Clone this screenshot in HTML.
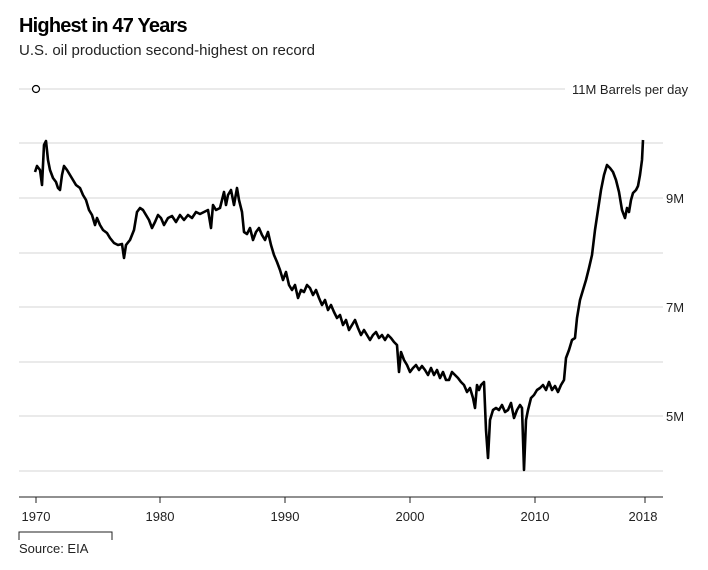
<!DOCTYPE html>
<html><head><meta charset="utf-8"><style>
body{margin:0;background:#fff;width:708px;height:565px;overflow:hidden;font-family:"Liberation Sans",Arial,sans-serif}
</style></head><body>
<svg width="708" height="565" xmlns="http://www.w3.org/2000/svg" font-family="Liberation Sans, Arial, sans-serif">
<text x="19" y="32" font-size="20" font-weight="bold" letter-spacing="-0.8" fill="#000">Highest in 47 Years</text>
<text x="19" y="55" font-size="15" fill="#222">U.S. oil production second-highest on record</text>
<g stroke="#e3e3e3" stroke-width="1.5">
<line x1="19" y1="89" x2="565" y2="89"/>
<line x1="19" y1="143" x2="663" y2="143"/>
<line x1="19" y1="198" x2="663" y2="198"/>
<line x1="19" y1="253" x2="663" y2="253"/>
<line x1="19" y1="307" x2="663" y2="307"/>
<line x1="19" y1="362" x2="663" y2="362"/>
<line x1="19" y1="416" x2="663" y2="416"/>
<line x1="19" y1="471" x2="663" y2="471"/>
</g>
<circle cx="36" cy="89" r="3.5" fill="#fff" stroke="#000" stroke-width="1.2"/>
<g font-size="13" fill="#222">
<text x="572" y="94">11M Barrels per day</text>
<text x="666" y="203">9M</text>
<text x="666" y="312">7M</text>
<text x="666" y="421">5M</text>
</g>
<line x1="19" y1="497" x2="663" y2="497" stroke="#222" stroke-width="1"/>
<g stroke="#222" stroke-width="1">
<line x1="36" y1="497" x2="36" y2="503"/><line x1="160" y1="497" x2="160" y2="503"/>
<line x1="285" y1="497" x2="285" y2="503"/><line x1="410" y1="497" x2="410" y2="503"/>
<line x1="535" y1="497" x2="535" y2="503"/><line x1="645" y1="497" x2="645" y2="503"/>
</g>
<g font-size="13" fill="#222" text-anchor="middle">
<text x="36" y="521">1970</text><text x="160" y="521">1980</text><text x="285" y="521">1990</text>
<text x="410" y="521">2000</text><text x="535" y="521">2010</text><text x="643" y="521">2018</text>
</g>
<path d="M19 540V532H112V540" fill="none" stroke="#222" stroke-width="1"/>
<text x="19" y="553" font-size="13" fill="#222">Source: EIA</text>
<polyline fill="none" stroke="#000" stroke-width="2.6" stroke-linejoin="round" points="35,172 37,166 40,170 42,185 44,145 46,141 48,160 50,170 53,178 56,182 58,188 60,190 62,175 64,166 67,170 70,175 73,180 76,185 80,188 83,195 86,200 89,210 92,215 95,225 97,218 100,225 103,230 107,233 110,238 114,243 118,245 122,244 124,258 126,245 130,240 134,230 137,212 140,208 143,210 146,215 149,220 152,228 155,222 158,215 161,218 164,225 168,218 172,216 176,222 180,215 184,220 188,215 192,218 196,212 200,214 204,212 208,210 211,228 213,205 216,210 220,208 224,192 226,205 228,195 231,190 234,205 237,188 239,200 242,212 244,232 247,234 250,228 253,240 256,232 259,228 262,235 265,240 268,232 271,245 274,255 277,262 280,270 283,280 286,272 289,285 292,290 295,285 298,298 301,290 304,292 307,285 310,288 313,295 316,290 319,298 322,305 325,300 328,310 331,305 334,312 337,318 340,315 343,325 346,320 349,330 352,325 355,320 358,328 361,335 364,330 367,335 370,340 373,335 376,332 379,338 382,335 385,340 388,335 391,338 394,342 397,345 399,372 401,352 404,360 407,365 410,372 413,368 416,365 419,370 422,366 425,370 428,375 431,368 434,375 437,370 440,378 443,372 446,380 449,380 452,372 455,375 458,378 461,382 464,385 467,392 470,388 473,398 475,408 477,385 479,390 481,385 484,382 486,430 488,458 490,420 493,410 496,408 499,410 502,405 505,412 508,410 511,403 514,418 517,410 520,405 522,408 524,470 526,420 528,410 531,398 534,395 537,390 540,388 543,385 546,390 549,382 552,390 555,386 558,392 561,385 564,380 566,358 569,350 572,340 575,338 577,318 580,300 583,290 586,280 589,268 592,255 595,230 598,210 601,190 604,175 607,165 610,168 613,172 616,180 619,192 622,210 625,218 627,208 629,212 631,200 633,193 636,190 638,186 640,175 642,160 643,140"/>
</svg>
</body></html>
